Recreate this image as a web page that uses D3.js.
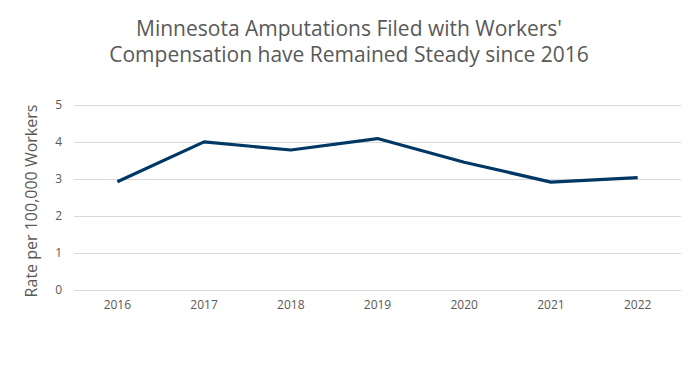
<!DOCTYPE html>
<meta charset="utf-8">
<style>
body { margin: 0; background: #fff; font-family: "Open Sans", sans-serif; }
.grid line { stroke: #d9d9d9; stroke-width: 1px; }
.tick text { fill: #595959; font-size: 12px; font-family: "Open Sans", sans-serif; }
</style>
<body>
<div id="chart"></div>
<script src="https://cdnjs.cloudflare.com/ajax/libs/d3/7.8.5/d3.min.js"></script>
<script>

var years = ["2016", "2017", "2018", "2019", "2020", "2021", "2022"];
var rates = [2.92, 4.0, 3.78, 4.09, 3.45, 2.91, 3.03];
var yTicks = [0, 1, 2, 3, 4, 5];
var titleLines = ["Minnesota Amputations Filed with Workers'", "Compensation have Remained Steady since 2016"];
var yTitle = "Rate per 100,000 Workers";

var width = 700,
    height = 365;
var margin = {top: 105, right: 19, bottom: 75.5, left: 74};

var svg = d3.select("#chart")
  .append("svg")
    .attr("width", width)
    .attr("height", height);

var x = d3.scaleBand()
  .domain(years)
  .range([margin.left, width - margin.right]);

var y = d3.scaleLinear()
  .domain([0, 5])
  .range([height - margin.bottom, margin.top]);

// gridlines
svg.append("g")
  .attr("class", "grid")
  .selectAll("line")
  .data(yTicks)
  .enter().append("line")
    .attr("x1", margin.left)
    .attr("x2", width - margin.right)
    .attr("y1", function(d) { return Math.round(y(d)) + 0.5; })
    .attr("y2", function(d) { return Math.round(y(d)) + 0.5; });

// y axis labels
var yAxis = svg.append("g")
  .attr("transform", "translate(" + (margin.left - 10) + ",0)")
  .call(d3.axisLeft(y).tickValues(yTicks).tickFormat(d3.format("d")).tickSize(0).tickPadding(2));
yAxis.select(".domain").remove();

// x axis labels
var xAxis = svg.append("g")
  .attr("transform", "translate(0," + (height - margin.bottom + 5) + ")")
  .call(d3.axisBottom(x).tickSize(0).tickPadding(6));
xAxis.select(".domain").remove();

// the line
var line = d3.line()
  .x(function(d, i) { return x(years[i]) + x.bandwidth() / 2; })
  .y(function(d) { return y(d); });

svg.append("path")
  .datum(rates)
  .attr("d", line)
  .attr("fill", "none")
  .attr("stroke", "#003865")
  .attr("stroke-width", 3.2)
  .attr("stroke-linejoin", "round");

// title
svg.append("g")
  .selectAll("text")
  .data(titleLines)
  .enter().append("text")
    .attr("x", width / 2 - 1)
    .attr("y", function(d, i) { return 36 + i * 26; })
    .attr("text-anchor", "middle")
    .attr("fill", "#595959")
    .style("font-size", "21px")
    .text(function(d) { return d; });

// y title
svg.append("text")
  .attr("transform", "translate(37," + 201 + ") rotate(-90)")
  .attr("text-anchor", "middle")
  .attr("fill", "#595959")
  .style("font-size", "16px")
  .text(yTitle);

</script>
</body>
